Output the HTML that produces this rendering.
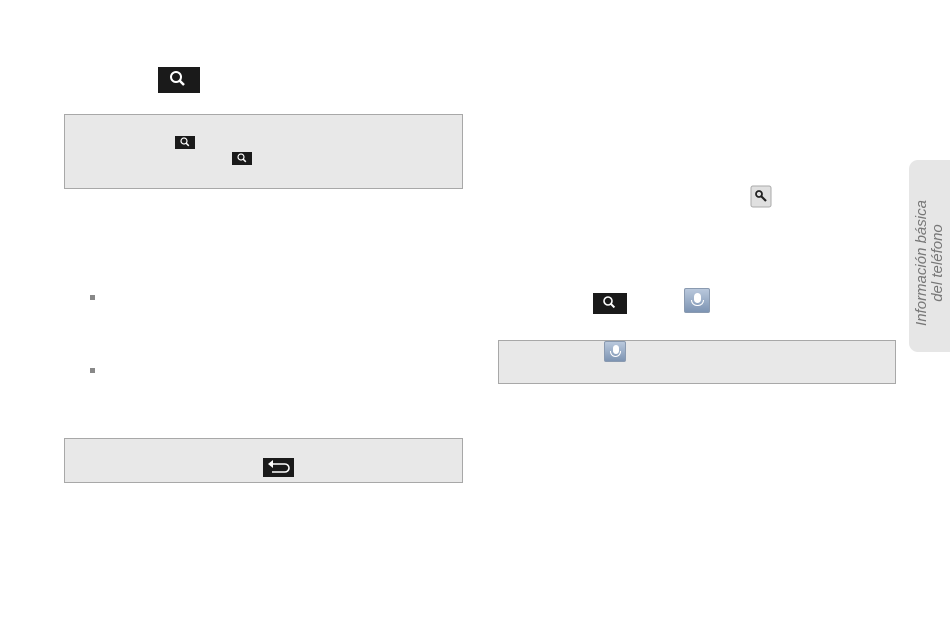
<!DOCTYPE html>
<html><head><style>
body{margin:0;width:950px;height:633px;background:#fff;position:relative;overflow:hidden;font-family:"Liberation Sans",sans-serif}
.a{position:absolute}
.box{position:absolute;background:#e8e8e8;border:1px solid #a8a8a8;box-sizing:border-box}
.mic{position:absolute;background:linear-gradient(#b9c8dc,#7d94b3);border:1px solid #8a9ab0;box-sizing:border-box;border-radius:2px}
</style></head><body>
<div class="box" style="left:64px;top:114px;width:399px;height:75px"></div>
<div class="box" style="left:64px;top:438px;width:399px;height:45px"></div>
<div class="box" style="left:498px;top:340px;width:398px;height:44px"></div>

<svg class="a" style="left:0;top:0" width="950" height="633">
<defs>
<g id="mag"><circle cx="0" cy="0" r="5" fill="none" stroke="#fff" stroke-width="2"/><line x1="3.5" y1="3.5" x2="8" y2="8" stroke="#fff" stroke-width="2.5"/></g>
</defs>
<rect x="158" y="67" width="42" height="26" fill="#1a1a1a"/>
<use href="#mag" transform="translate(176,77)"/>
<rect x="175" y="136" width="20" height="13" fill="#1a1a1a"/>
<use href="#mag" transform="translate(184,141) scale(0.6)"/>
<rect x="232" y="152" width="20" height="13" fill="#1a1a1a"/>
<use href="#mag" transform="translate(241,157) scale(0.6)"/>
<rect x="593" y="293" width="34" height="21" fill="#1a1a1a"/>
<use href="#mag" transform="translate(608,301) scale(0.8)"/>
<rect x="263" y="458" width="31" height="19" fill="#1a1a1a"/>
<path d="M271 464 H285 a4 4 0 0 1 0 8 H272" fill="none" stroke="#fff" stroke-width="1.6"/>
<path d="M268 464 L273 460 L273 468 Z" fill="#fff"/>
<rect x="751" y="186" width="20" height="21" rx="2" fill="#e0e0e0" stroke="#aaa"/>
<circle cx="759" cy="194" r="3" fill="none" stroke="#222" stroke-width="1.8"/>
<line x1="761" y1="196" x2="766" y2="201" stroke="#222" stroke-width="2.2"/>
<rect x="90" y="295" width="5" height="5" fill="#888"/>
<rect x="90" y="368" width="5" height="5" fill="#888"/>
</svg>
<div class="mic" style="left:684px;top:288px;width:26px;height:25px"><div class="a" style="left:9px;top:4px;width:7px;height:10px;background:#fff;border-radius:4px"></div><div class="a" style="left:6px;top:11px;width:13px;height:6px;border:1.5px solid #fff;border-top:none;border-radius:0 0 7px 7px;box-sizing:border-box"></div></div>
<div class="mic" style="left:604px;top:341px;width:22px;height:21px"><div class="a" style="left:8px;top:3px;width:6px;height:9px;background:#fff;border-radius:3px"></div><div class="a" style="left:5px;top:9px;width:11px;height:6px;border:1.5px solid #fff;border-top:none;border-radius:0 0 6px 6px;box-sizing:border-box"></div></div>

<div class="a" style="left:909px;top:160px;width:45px;height:192px;background:#e6e6e6;border-radius:9px 0 0 9px"></div>
<div class="a" style="left:834px;top:245px;width:196px;height:36px;transform:rotate(-90deg);color:#777;font-style:italic;font-size:15px;line-height:16px;text-align:center">Información básica<br>del teléfono</div>
</body></html>
